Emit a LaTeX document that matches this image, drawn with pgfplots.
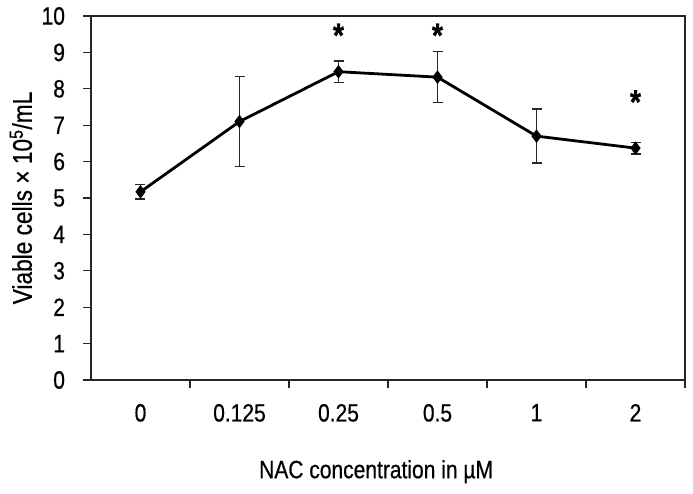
\documentclass[border=0pt]{standalone}
\usepackage{pgfplots}
\pgfplotsset{compat=1.18}
\usepackage{fontspec}
\setmainfont{Liberation Sans}[FakeStretch=0.84, FakeBold=0.6]
\begin{document}
\begin{tikzpicture}
\begin{axis}[
  scale only axis, width=594pt, height=364pt,
  xmin=-0.5, xmax=5.5, ymin=0, ymax=10,
  axis line style={line width=1.1pt, color=black!85},
  every tick/.style={line width=1.1pt, color=black!85},
  tick align=outside,
  major tick length=7.5pt,
  xtick pos=bottom, ytick pos=left,
  xtick={0.5,1.5,2.5,3.5,4.5,5.5}, xticklabels={},
  extra x ticks={0,1,2,3,4,5},
  extra x tick labels={0,0.125,0.25,0.5,1,2},
  extra x tick style={tick style={draw=none}, xticklabel style={yshift=-13pt}},
  ytick={0,1,...,10},
  yticklabel style={xshift=-15pt},
  /pgf/number format/assume math mode=true,
  tick label style={font=\fontsize{25}{30}\selectfont},
  xlabel style={font=\fontsize{25}{30}\selectfont},
  ylabel style={font=\fontsize{27}{30}\selectfont},
  xlabel={NAC concentration in µM},
  ylabel={Viable cells × 10\textsuperscript{5}/mL},
  xlabel style={at={(axis description cs:0.48,-0.252)}, anchor=center},
  ylabel style={at={(axis description cs:-0.118,0.5)}, anchor=center},
  clip=false,
]
\addplot[black, line width=2.8pt, mark=diamond*, mark size=4.5pt,
  error bars/.cd, y dir=both, y explicit,
  error bar style={line width=1.4pt, black!85},
  error mark options={rotate=90, mark size=5pt, line width=1.4pt, black!85}]
  table[x=x, y=y, y error=e] {
  x y e
  0 5.17 0.20
  1 7.10 1.24
  2 8.47 0.29
  3 8.32 0.70
  4 6.70 0.74
  5 6.37 0.16
};
\node[font=\fontsize{34}{36}\selectfont\bfseries] at (axis cs:2,9.47) {*};
\node[font=\fontsize{34}{36}\selectfont\bfseries] at (axis cs:3,9.47) {*};
\node[font=\fontsize{34}{36}\selectfont\bfseries] at (axis cs:5,7.64) {*};
\path (rel axis cs:0,0) ++(-91pt,-113pt) rectangle ++(693pt,493pt);
\end{axis}
\end{tikzpicture}
\end{document}
